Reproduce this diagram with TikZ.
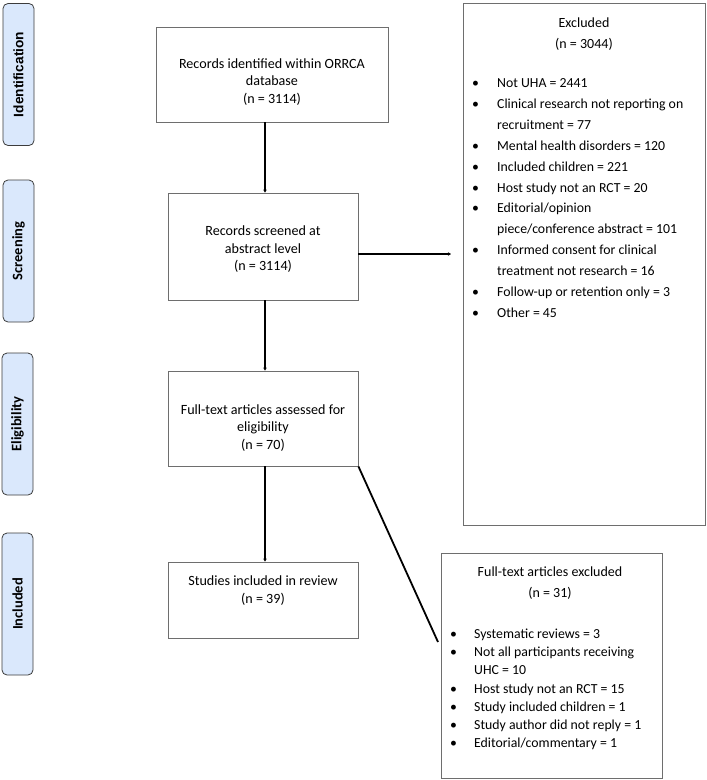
\documentclass[tikz,border=0pt]{standalone}
\usepackage{fontspec}
\setmainfont{Carlito}
\newfontfamily\arialfont{Liberation Sans}
\usetikzlibrary{arrows.meta}
\definecolor{lblfill}{RGB}{218,232,252}
\definecolor{lbldraw}{RGB}{60,60,60}
\definecolor{boxdraw}{RGB}{110,110,110}
\tikzset{
  phase/.style={draw=lbldraw, line width=0.8pt, fill=lblfill, rounded corners=5pt, rotate=90,
    minimum width=142pt, minimum height=31pt, inner sep=0pt, font=\fontsize{14.5}{16}\selectfont\bfseries},
  box/.style={draw=boxdraw, line width=0.9pt, inner sep=0pt},
  txt/.style={inner sep=0pt, anchor=base, font=\fontsize{14.1}{17.5}\selectfont},
  ttl/.style={inner sep=0pt, anchor=base, font=\fontsize{14}{20.5}\selectfont},
  lst/.style={inner sep=0pt, anchor=base west},
  arr/.style={line width=1.8pt, -{Stealth[length=3pt,width=3.5pt]}},
  seg/.style={line width=1.8pt}
}
\newcommand{\bitem}[1]{\textbullet & #1}
\begin{document}
\begin{tikzpicture}[x=1pt,y=-1pt]
\useasboundingbox (0,0) rectangle (707,780);
% phase labels
\node[phase, font=\fontsize{13.7}{16}\selectfont\bfseries\arialfont] (pid) at (18.5,74.5) {Identification};
\node[phase] (psc) at (18.5,251) {Screening};
\node[phase] (pel) at (17.5,424) {Eligibility};
\node[phase] (pin) at (17.5,604) {Included};
% main boxes
\node[box, minimum width=232pt, minimum height=95pt] (b1) at (272,74.5) {};
\node[box, minimum width=190pt, minimum height=107pt] (b2) at (263,246.5) {};
\node[box, minimum width=190pt, minimum height=95pt] (b3) at (263,418.5) {};
\node[box, minimum width=190pt, minimum height=76pt] (b4) at (263,600) {};
\node[box, minimum width=242pt, minimum height=522pt] (ex1) at (584,264) {};
\node[box, minimum width=221pt, minimum height=225pt] (ex2) at (551.5,665.5) {};
% texts
\node[txt] (t1) at (272,68) {\begin{tabular}[t]{@{}c@{}}Records identified within ORRCA\\ database\\ (n = 3114)\end{tabular}};
\node[txt] (t2) at (263,235.5) {\begin{tabular}[t]{@{}c@{}}Records screened at\\ abstract level\\ (n = 3114)\end{tabular}};
\node[txt] (t3) at (263,414) {\begin{tabular}[t]{@{}c@{}}Full-text articles assessed for\\ eligibility\\ (n = 70)\end{tabular}};
\node[txt] (t4) at (263,585.5) {\begin{tabular}[t]{@{}c@{}}Studies included in review\\ (n = 39)\end{tabular}};
\node[ttl] (e1t) at (584,27.5) {\begin{tabular}[t]{@{}c@{}}Excluded\\ (n = 3044)\end{tabular}};
\node[lst, font=\fontsize{13.8}{20.9}\selectfont] (e1l) at (472,87.5) {\begin{tabular}[t]{@{}p{25pt}@{}l@{}}
\bitem{Not UHA = 2441}\\
\bitem{Clinical research not reporting on}\\
 & recruitment = 77\\
\bitem{Mental health disorders = 120}\\
\bitem{Included children = 221}\\
\bitem{Host study not an RCT = 20}\\
\bitem{Editorial/opinion}\\
 & piece/conference abstract = 101\\
\bitem{Informed consent for clinical}\\
 & treatment not research = 16\\
\bitem{Follow-up or retention only = 3}\\
\bitem{Other = 45}
\end{tabular}};
\node[ttl] (e2t) at (550,576.5) {\begin{tabular}[t]{@{}c@{}}Full-text articles excluded\\ (n = 31)\end{tabular}};
\node[lst, font=\fontsize{13.8}{18.2}\selectfont] (e2l) at (450,638.5) {\begin{tabular}[t]{@{}p{24pt}@{}l@{}}
\bitem{Systematic reviews = 3}\\
\bitem{Not all participants receiving}\\
 & UHC = 10\\
\bitem{Host study not an RCT = 15}\\
\bitem{Study included children = 1}\\
\bitem{Study author did not reply = 1}\\
\bitem{Editorial/commentary = 1}
\end{tabular}};
% connectors
\coordinate (ax) at (265,0);
\coordinate (ay) at (0,254);
\coordinate (hend) at (451,254);
\coordinate (dend) at (438,642);
\draw[arr] (b1.south -| ax) -- (b2.north -| ax);
\draw[arr] (b2.south -| ax) -- (b3.north -| ax);
\draw[arr] (b3.south -| ax) -- (b4.north -| ax);
\draw[arr] (b2.east |- ay) -- (hend);
\draw[seg] (b3.south east) -- (dend);
\end{tikzpicture}
\end{document}
